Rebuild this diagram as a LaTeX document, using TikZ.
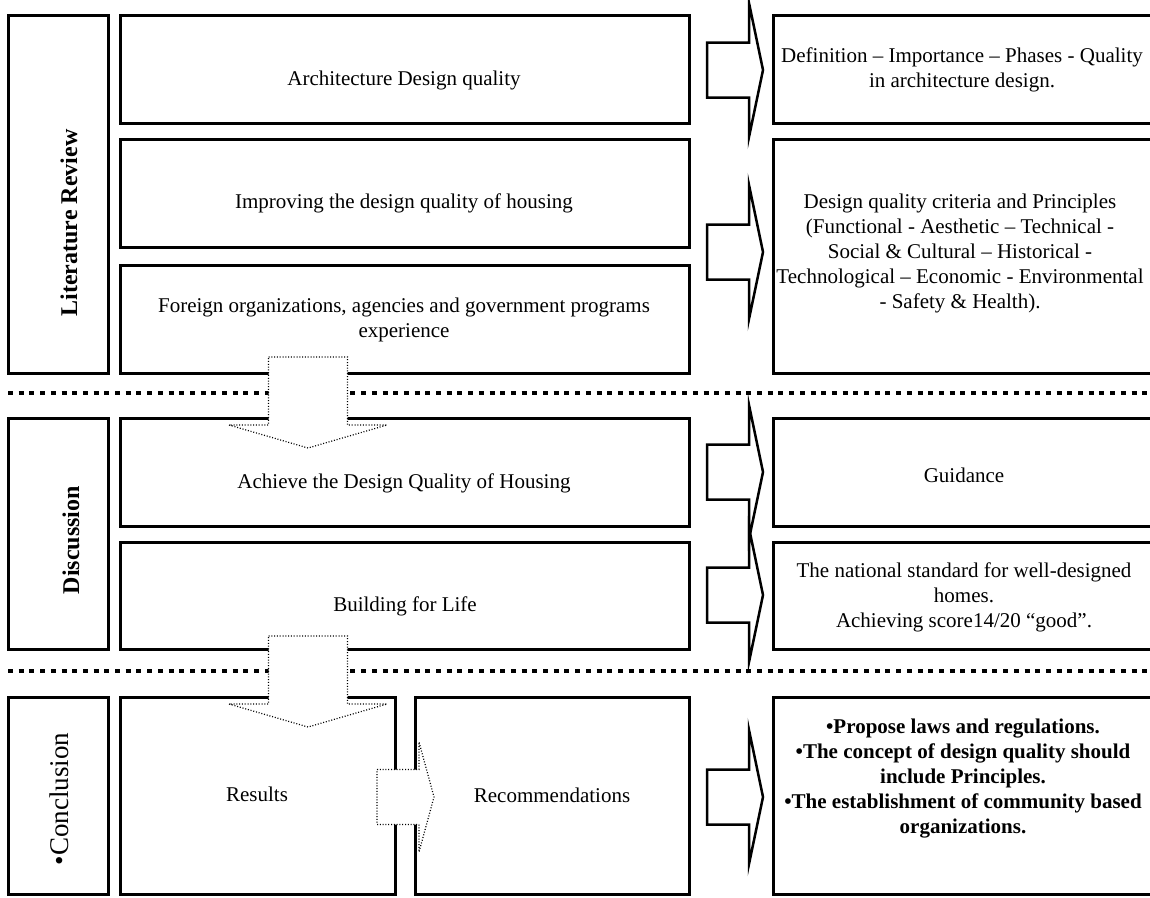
\documentclass[tikz,border=0pt]{standalone}
\usepackage{fontspec}
\setmainfont{Liberation Serif}
\usetikzlibrary{fit}
\begin{document}
\begin{tikzpicture}[x=1pt,y=-1pt,
  box/.style={draw, line width=3pt, inner sep=0pt},
  txt/.style={font=\fontsize{21}{25}\selectfont, align=center, inner sep=0pt},
  btxt/.style={font=\fontsize{21}{25}\selectfont\bfseries, align=center, inner sep=0pt},
  sidelbl/.style={font=\fontsize{24}{28}\selectfont\bfseries, rotate=90, inner sep=0pt},
  sepline/.style={line width=4.5pt, dash pattern=on 5pt off 5.7pt},
  solidarr/.style={draw, line width=2.5pt, line join=miter},
  dotarr/.style={draw, fill=white, line width=1.2pt, dash pattern=on 1pt off 1.8pt},
  downarr/.pic={\path[dotarr] (-39.5,-91) -- (39.5,-91) -- (39.5,-23) -- (79,-23) -- (0,0) -- (-79,-23) -- (-39.5,-23) -- cycle;},
  rightdot/.pic={\path[dotarr] (-57,-27.5) -- (-15,-27.5) -- (-15,-55) -- (0,0) -- (-15,55) -- (-15,27.5) -- (-57,27.5) -- cycle;},
  rightarr/.pic={\path[solidarr] (-56,-27.5) -- (-14,-27.5) -- (-14,-67) -- (0,0) -- (-14,67) -- (-14,27.5) -- (-56,27.5) -- cycle;}
]
\useasboundingbox (0,0) rectangle (1150,897);

% left column
\node[box, fit={(8,15)(108,373)}] (lit) {};
\node[box, fit={(8,418)(108,649)}] (disc) {};
\node[box, fit={(8,697)(108,894)}] (conc) {};

% middle column
\node[box, fit={(120,15)(689,123)}] (m1) {};
\node[box, fit={(120,139)(689,247)}] (m2) {};
\node[box, fit={(120,265)(689,373)}] (m3) {};
\node[box, fit={(120,418)(689,526)}] (m4) {};
\node[box, fit={(120,542)(689,649)}] (m5) {};
\node[box, fit={(120,697)(395,894)}] (res) {};
\node[box, fit={(415,697)(689,894)}] (rec) {};

% right column
\node[box, fit={(773,15)(1155,123)}] (r1) {};
\node[box, fit={(773,139)(1155,373)}] (r2) {};
\node[box, fit={(773,418)(1155,526)}] (r3) {};
\node[box, fit={(773,542)(1155,649)}] (r4) {};
\node[box, fit={(773,697)(1155,894)}] (r5) {};

% separators
\coordinate (s1a) at (8,393); \coordinate (s1b) at (1150,393);
\coordinate (s2a) at (8,671); \coordinate (s2b) at (1150,671);
\draw[sepline] (s1a) -- (s1b);
\draw[sepline] (s2a) -- (s2b);

% side labels
\node[sidelbl] (litl) at (69,223) {Literature Review};
\node[sidelbl] (discl) at (71,540) {Discussion};
\node[font=\fontsize{27}{30}\selectfont, rotate=90, inner sep=0pt] (concl) at (59,799) {•Conclusion};

% middle texts
\node[txt] (t1) at (404,80) {Architecture Design quality};
\node[txt] (t2) at (404,203) {Improving the design quality of housing};
\node[txt] (t3) at (404,320) {Foreign organizations, agencies and government programs\\experience};
\node[txt] (t4) at (404,483) {Achieve the Design Quality of Housing};
\node[txt] (t5) at (405,606) {Building for Life};
\node[txt] (t6) at (257,794) {Results};
\node[txt] (t7) at (552,795) {Recommendations};

% right texts
\node[txt] (u1) at (962,70) {Definition – Importance – Phases - Quality\\in architecture design.};
\node[txt] (u2) at (960,253) {Design quality criteria and Principles\\(Functional - Aesthetic – Technical -\\Social \& Cultural – Historical -\\Technological – Economic - Environmental\\- Safety \& Health).};
\node[txt] (u3) at (964,475) {Guidance};
\node[txt] (u4) at (964,597) {The national standard for well-designed\\homes.\\Achieving score14/20 “good”.};
\node[btxt] (u5) at (963,779) {•Propose laws and regulations.\\•The concept of design quality should\\include Principles.\\•The establishment of community based\\organizations.};

% solid block arrows
\pic at (763,70) {rightarr};
\pic at (763,252) {rightarr};
\pic at (763,472) {rightarr};
\pic at (763,595) {rightarr};
\pic at (763,797) {rightarr};

% dotted block arrows
\pic at (308,448) {downarr};
\pic at (308,727) {downarr};
\pic at (434,797) {rightdot};
\end{tikzpicture}
\end{document}
